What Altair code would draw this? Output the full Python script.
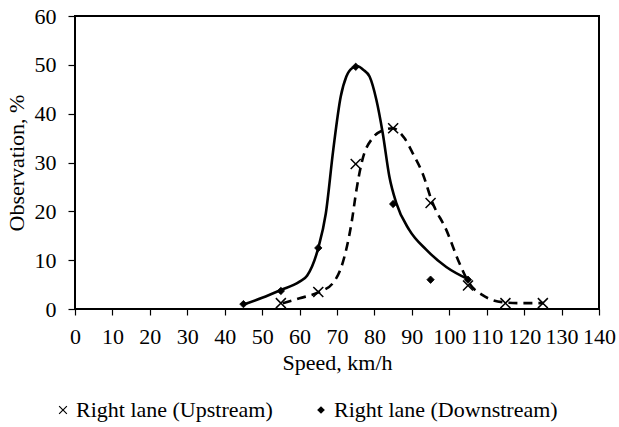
import altair as alt
import pandas as pd

# Observed points
up_x = [55, 65, 75, 85, 95, 105, 115, 125]
up_y = [1.2, 3.5, 29.7, 37.0, 21.7, 4.8, 1.2, 1.2]
down_x = [45, 55, 65, 75, 85, 95, 105]
down_y = [1.0, 3.7, 12.5, 49.6, 21.5, 6.0, 6.0]

# Fitted curves
up_cx = [55.5, 60, 65.3, 68.9, 71.5, 73.9, 75.2, 76.8, 79.5, 82, 84.9, 88, 90.5, 92.8, 95.5, 99.2, 102.7, 105.3, 108.8, 114.1, 119, 125.3]
up_cy = [1.2, 2.2, 3.5, 5.3, 9.4, 17.7, 24.4, 30.6, 35.0, 36.5, 37.0, 35.0, 31.5, 27.9, 21.8, 16.2, 9.4, 5.3, 2.9, 1.4, 1.2, 1.2]
down_cx = [45, 50, 55, 60, 62, 65, 67, 69, 71, 72.5, 74, 75.5, 77, 78.7, 80.5, 82.2, 84, 85.8, 89.3, 93.9, 99.2, 105.3]
down_cy = [0.9, 2.3, 3.9, 5.6, 6.8, 12.5, 19.5, 32.6, 43.5, 47.6, 49.3, 49.7, 49.0, 47.6, 42.9, 36.1, 27.1, 21.8, 16.2, 12.1, 8.6, 6.0]

series = ["Right lane (Upstream)", "Right lane (Downstream)"]

up_pts = pd.DataFrame({"x": up_x, "y": up_y, "s": series[0]})
down_pts = pd.DataFrame({"x": down_x, "y": down_y, "s": series[1]})
up_curve = pd.DataFrame({"x": up_cx, "y": up_cy})
down_curve = pd.DataFrame({"x": down_cx, "y": down_cy})

FONT = "Liberation Serif"
FS = 22

# filled "×" glyph outline (a plus sign rotated by 45 degrees)
a, L, r2 = 0.15, 1.414, 1.41421356
plus = [(a, L), (a, a), (L, a), (L, -a), (a, -a), (a, -L), (-a, -L), (-a, -a),
        (-L, -a), (-L, a), (-a, a), (-a, L)]
rot = [((px - py) / r2, (px + py) / r2) for px, py in plus]
xshape = "M" + "L".join(f"{px:.3f},{py:.3f}" for px, py in rot) + "Z"

xs = alt.Scale(domain=[0, 140], nice=False)
ys = alt.Scale(domain=[0, 60], nice=False)
xax = alt.Axis(values=list(range(0, 141, 10)), title="Speed, km/h", grid=False,
               domain=False, tickColor="black", tickSize=6, tickWidth=1.2,
               labelPadding=11, titlePadding=5, labelOverlap=False, labelFlush=False)
yax = alt.Axis(values=list(range(0, 61, 10)), title="Observation, %", grid=False,
               domain=False, tickColor="black", tickSize=7, tickWidth=1.2,
               labelPadding=12, titlePadding=6, labelOverlap=False, labelFlush=False)

X = alt.X("x:Q", scale=xs, axis=xax)
Y = alt.Y("y:Q", scale=ys, axis=yax)

line_up = alt.Chart(up_curve).mark_line(
    interpolate="monotone", color="black", strokeWidth=2.6, strokeDash=[9, 6]
).encode(x=X, y=Y)
line_down = alt.Chart(down_curve).mark_line(
    interpolate="monotone", color="black", strokeWidth=2.6
).encode(x=X, y=Y)

legend = alt.Legend(title=None, orient="none", legendX=-23, legendY=383,
                    direction="horizontal", columns=2, columnPadding=37,
                    labelFont=FONT, labelFontSize=FS, labelColor="black", labelLimit=0,
                    symbolFillColor="black", symbolStrokeColor="black",
                    symbolStrokeWidth=0.5, symbolSize=60, symbolOffset=0,
                    labelOffset=2)
shape_scale = alt.Scale(domain=series, range=[xshape, "diamond"])

pts_up = alt.Chart(up_pts).mark_point(
    filled=True, color="black", strokeWidth=0, opacity=1, size=100
).encode(x=X, y=Y, shape=alt.Shape("s:N", scale=shape_scale, legend=legend))
pts_down = alt.Chart(down_pts).mark_point(
    filled=True, color="black", strokeWidth=0.8, stroke="black", opacity=1, size=55
).encode(x=X, y=Y, shape=alt.Shape("s:N", scale=shape_scale, legend=legend))

chart = alt.layer(line_up, line_down, pts_up, pts_down).properties(
    width=524, height=293,
    background="white",
    autosize=alt.AutoSizeParams(type="none"),
    padding={"left": 75, "top": 16, "right": 20, "bottom": 118},
).configure_view(
    stroke="black", strokeWidth=2
).configure_axis(
    labelFont=FONT, titleFont=FONT, labelFontSize=FS, titleFontSize=FS,
    labelColor="black", titleColor="black", titleFontWeight="normal",
)

chart.save("out.html", embed_options={"renderer": "svg", "actions": False})
